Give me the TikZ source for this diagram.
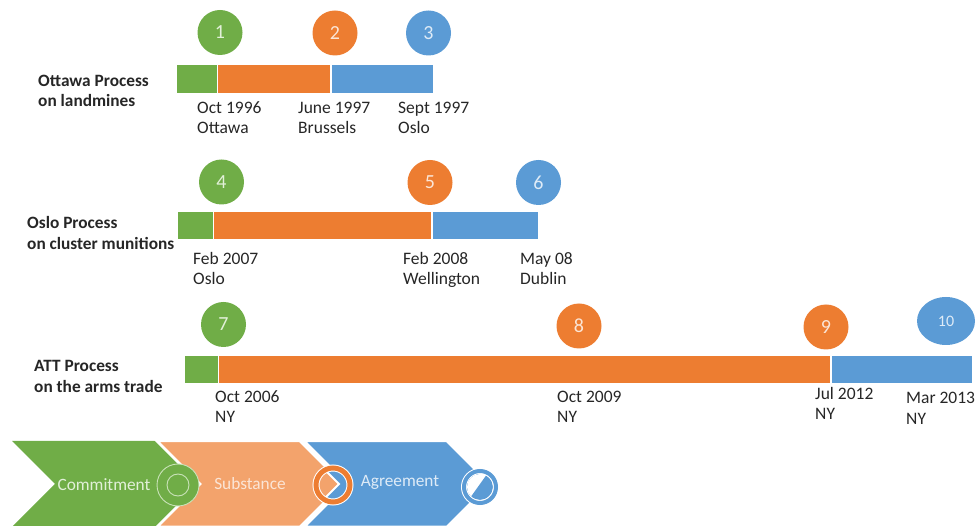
\documentclass[tikz,border=0pt]{standalone}
\usepackage{fontspec}
\setmainfont{Carlito}
\usetikzlibrary{shapes.geometric}
\definecolor{cgreen}{HTML}{70AD47}
\definecolor{corange}{HTML}{ED7D31}
\definecolor{cblue}{HTML}{5B9BD5}
\definecolor{clorange}{HTML}{F3A36C}
\definecolor{tgreen}{HTML}{E2F0D9}
\definecolor{torange}{HTML}{FBE5D6}
\definecolor{tblue}{HTML}{DEEBF7}
\definecolor{ringgreen}{HTML}{C9E2B8}
\definecolor{ink}{HTML}{262626}
\begin{document}
\begin{tikzpicture}[x=1pt,y=-1pt,
  lbl/.style={font=\fontsize{17.5}{20}\selectfont, text=ink, inner sep=0pt, anchor=base west},
  ttl/.style={font=\fontsize{17.3}{20}\selectfont\bfseries, text=ink, inner sep=0pt, anchor=base west},
  num/.style={circle, minimum size=45pt, inner sep=0pt, font=\fontsize{20}{20}\selectfont},
  sep/.style={draw=white, line width=1.2pt},
  chev/.style={draw=white, line width=2.5pt, line join=miter},
  chevtext/.style={font=\fontsize{17.3}{20}\selectfont, inner sep=0pt}
]
\useasboundingbox (0,0) rectangle (978,526);

% ---------- Ottawa Process ----------
\node[ttl] (t1a) at (38,87) {Ottawa Process};
\node[ttl] (t1b) at (38,107) {on landmines};
\fill[cgreen]  (177,65) rectangle (217.5,93);
\fill[corange] (217.5,65) rectangle (331,93);
\fill[cblue]   (331,65) rectangle (433,93);
\draw[sep] (217.5,65) -- (217.5,93);
\draw[sep] (331,65) -- (331,93);
\node[num, fill=cgreen,  text=tgreen]  (c1) at (220,32.5) {1};
\node[num, fill=corange, text=torange] (c2) at (335,33)   {2};
\node[num, fill=cblue,   text=tblue]   (c3) at (428.5,33) {3};
\node[lbl] (d1a) at (197,114) {Oct 1996};
\node[lbl] (d1b) at (197,134) {Ottawa};
\node[lbl] (d2a) at (298,114) {June 1997};
\node[lbl] (d2b) at (298,134) {Brussels};
\node[lbl] (d3a) at (398,114) {Sept 1997};
\node[lbl] (d3b) at (398,134) {Oslo};

% ---------- Oslo Process ----------
\node[ttl] (t2a) at (27,229) {Oslo Process};
\node[ttl] (t2b) at (27,250) {on cluster munitions};
\fill[cgreen]  (178,212) rectangle (213.5,239);
\fill[corange] (213.5,212) rectangle (432,239);
\fill[cblue]   (432,212) rectangle (538,239);
\draw[sep] (213.5,212) -- (213.5,239);
\draw[sep] (432,212) -- (432,239);
\node[num, fill=cgreen,  text=tgreen]  (c4) at (221.5,182) {4};
\node[num, fill=corange, text=torange] (c5) at (430,182.5) {5};
\node[num, fill=cblue,   text=tblue]   (c6) at (538.5,182.5) {6};
\node[lbl] (d4a) at (193,265) {Feb 2007};
\node[lbl] (d4b) at (193,285) {Oslo};
\node[lbl] (d5a) at (403,265) {Feb 2008};
\node[lbl] (d5b) at (403,285) {Wellington};
\node[lbl] (d6a) at (520,265) {May 08};
\node[lbl] (d6b) at (520,285) {Dublin};

% ---------- ATT Process ----------
\node[ttl] (t3a) at (34,372) {ATT Process};
\node[ttl] (t3b) at (34,393) {on the arms trade};
\fill[cgreen]  (185,356) rectangle (218.5,383);
\fill[corange] (218.5,356) rectangle (831,383);
\fill[cblue]   (831,356) rectangle (972,383);
\draw[sep] (218.5,356) -- (218.5,383);
\draw[sep] (831,356) -- (831,383);
\node[num, fill=cgreen,  text=tgreen]  (c7) at (223.5,324.5) {7};
\node[num, fill=corange, text=torange] (c8) at (579,326) {8};
\node[num, fill=corange, text=torange] (c9) at (826,327) {9};
\node[ellipse, fill=cblue, text=tblue, minimum width=58pt, minimum height=48pt,
      inner sep=0pt, font=\fontsize{16}{16}\selectfont] (c10) at (946,321) {10};
\node[lbl] (d7a) at (215,403) {Oct 2006};
\node[lbl] (d7b) at (215,423) {NY};
\node[lbl] (d8a) at (557,403) {Oct 2009};
\node[lbl] (d8b) at (557,423) {NY};
\node[lbl] (d9a) at (815,400) {Jul 2012};
\node[lbl] (d9b) at (815,420) {NY};
\node[lbl] (d10a) at (906,404) {Mar 2013};
\node[lbl] (d10b) at (906,425) {NY};

% ---------- Legend chevrons ----------
\fill[cgreen] (12,441) -- (155,441) -- (198,484) -- (155,527) -- (12,527) -- (55,484) -- cycle;
\filldraw[fill=clorange, chev] (157,441) -- (300,441) -- (343,484) -- (300,527) -- (157,527) -- (200,484) -- cycle;
\filldraw[fill=cblue, chev] (304,441) -- (447,441) -- (490,484) -- (447,527) -- (304,527) -- (347,484) -- cycle;

\node[chevtext, text=tgreen]  (lg1) at (104,485) {Commitment};
\node[chevtext, text=torange] (lg2) at (250,484) {Substance};
\node[chevtext, text=tblue]   (lg3) at (400,482) {Agreement};

% ring on the first chevron joint
\fill[cgreen] (178,485) circle (21);
\draw[ringgreen, line width=0.9pt] (178,485) circle (21);
\draw[ringgreen, line width=0.9pt] (178,485) circle (11);

% ring on the second chevron joint
\begin{scope}
  \clip (333,485) circle (15);
  \fill[cblue] (318,470) rectangle (348,500);
  \filldraw[fill=clorange, draw=white, line width=2pt]
    (290,441) -- (296,441) -- (339,484) -- (296,527) -- (290,527) -- cycle;
\end{scope}
\draw[white, line width=7pt] (333,485) circle (17);
\draw[corange, line width=5pt] (333,485) circle (17);

% ring on the third chevron tip
\begin{scope}
  \clip (480,487) circle (13);
  \fill[white] (465,472) rectangle (495,502);
  \fill[cblue] (490,470) -- (470,498) -- (496,504) -- (498,470) -- cycle;
\end{scope}
\draw[white, line width=6pt] (480,487) circle (16);
\draw[cblue, line width=4pt] (480,487) circle (16);
\end{tikzpicture}
\end{document}
